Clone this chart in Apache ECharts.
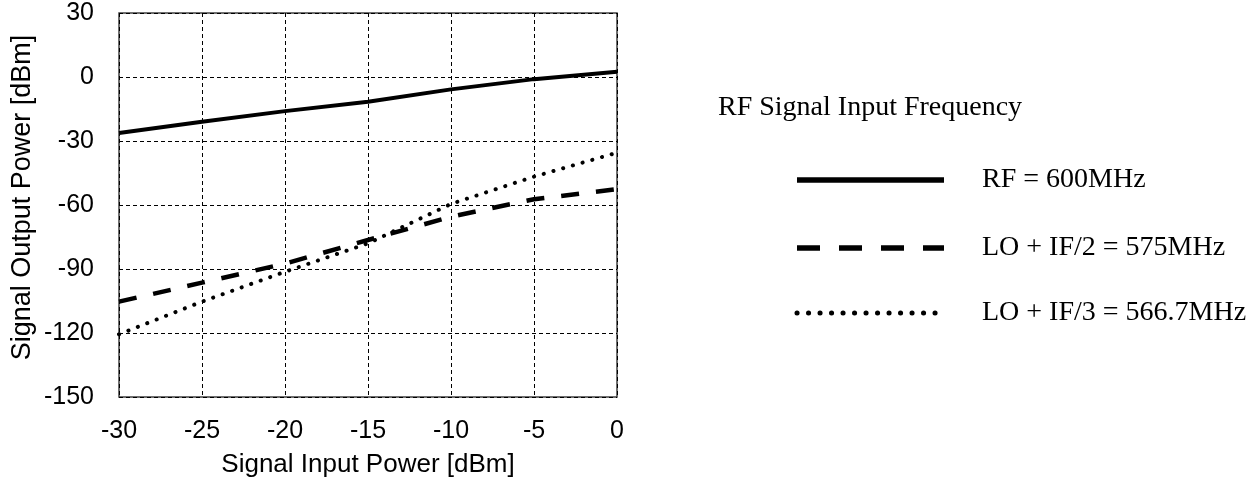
<!DOCTYPE html>
<html>
<head>
<meta charset="utf-8">
<script src="https://cdn.jsdelivr.net/npm/echarts@6/dist/echarts.min.js"></script>
<style>
  html, body { margin: 0; padding: 0; background: #fff; }
  #chart { width: 1258px; height: 486px; }
</style>
</head>
<body>
<div id="chart"></div>
<script>
// input power (x) in dBm
const inputPower = [-30, -25, -20, -15, -10, -5, 0];
// output power for each tone
const rf600 = [-26.3, -21, -16, -11.6, -5.8, -1, 2.5];
const lo575 = [-105.3, -96.4, -87.5, -76.4, -65.5, -57.3, -52.6];
const lo5667 = [-120.6, -105.3, -91.3, -78, -59.5, -46.7, -35.5];
const seriesNames = ["RF = 600MHz", "LO + IF/2 = 575MHz", "LO + IF/3 = 566.7MHz"];
const legendTitle = "RF Signal Input Frequency";

const pairs = (ys) => inputPower.map((x, i) => [x, ys[i]]);

const chart = echarts.init(document.getElementById("chart"));

const sans = "Liberation Sans, Arial, sans-serif";
const serif = "Liberation Serif, Times New Roman, serif";

// hand-drawn legend (line samples + labels), like the original figure
const legendRows = [
  { y: 180, dash: null, width: 5.5, cap: "butt" },
  { y: 248, dash: [23, 19], width: 5.5, cap: "butt" },
  { y: 313, dash: [0.1, 11.4], width: 5, cap: "round" },
];
const legendGraphics = [
  {
    type: "text",
    left: 718,
    top: 94,
    style: { text: legendTitle, font: "28px " + serif, fill: "#000" },
  },
];
legendRows.forEach((row, i) => {
  legendGraphics.push({
    type: "line",
    shape: { x1: 797, y1: row.y, x2: 944, y2: row.y },
    style: { stroke: "#000", lineWidth: row.width, lineDash: row.dash, lineCap: row.cap },
  });
  legendGraphics.push({
    type: "text",
    x: 982,
    y: row.y,
    style: {
      text: seriesNames[i],
      font: "28px " + serif,
      fill: "#000",
      verticalAlign: "middle",
    },
  });
});

chart.setOption({
  animation: false,
  graphic: legendGraphics,
  grid: {
    left: 119,
    top: 13,
    width: 498,
    height: 384,
    show: true,
    borderColor: "#404040",
    borderWidth: 1.5,
  },
  xAxis: {
    type: "value",
    min: -30,
    max: 0,
    interval: 5,
    name: "Signal Input Power [dBm]",
    nameLocation: "middle",
    nameGap: 55,
    nameTextStyle: { fontFamily: sans, fontSize: 26, color: "#000" },
    axisLine: { show: false },
    axisTick: { show: false },
    axisLabel: { fontFamily: sans, fontSize: 25, color: "#000", margin: 22 },
    splitLine: { lineStyle: { color: "#000", type: [4, 3], width: 1 } },
  },
  yAxis: {
    type: "value",
    min: -150,
    max: 30,
    interval: 30,
    name: "Signal Output Power [dBm]",
    nameLocation: "middle",
    nameGap: 83,
    nameTextStyle: { fontFamily: sans, fontSize: 27, color: "#000", padding: [0, 0, 0, 15] },
    axisLine: { show: false },
    axisTick: { show: false },
    axisLabel: { fontFamily: sans, fontSize: 25, color: "#000", margin: 25 },
    splitLine: { lineStyle: { color: "#000", type: [4, 3], width: 1 } },
  },
  series: [
    {
      name: seriesNames[0],
      type: "line",
      data: pairs(rf600),
      symbol: "none",
      lineStyle: { color: "#000", width: 4 },
    },
    {
      name: seriesNames[1],
      type: "line",
      data: pairs(lo575),
      symbol: "none",
      lineStyle: { color: "#000", width: 4.5, type: [18, 17] },
    },
    {
      name: seriesNames[2],
      type: "line",
      data: pairs(lo5667),
      symbol: "none",
      lineStyle: { color: "#000", width: 4, type: [0.1, 10], cap: "round" },
    },
  ],
});
</script>
</body>
</html>
